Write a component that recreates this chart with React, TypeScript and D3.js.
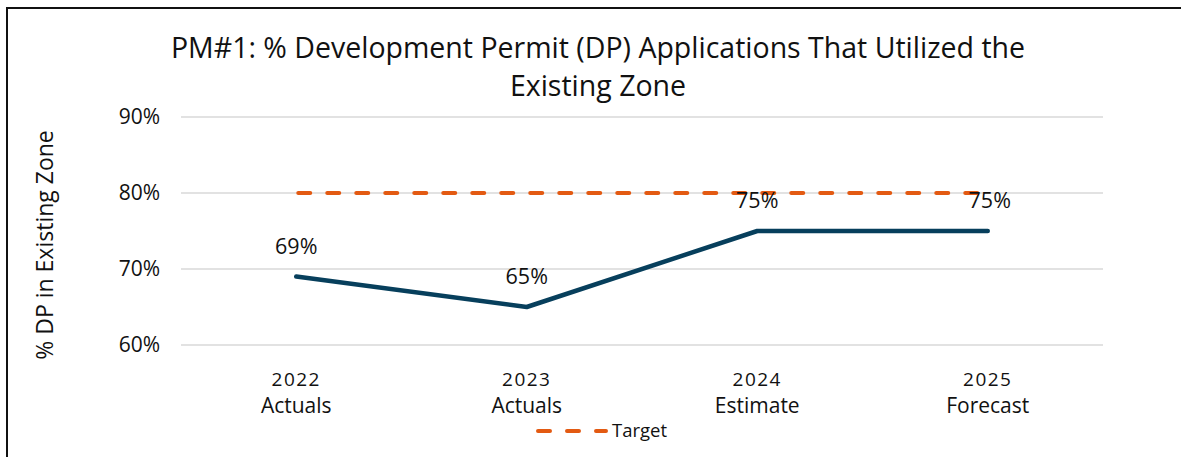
import React, { useEffect, useRef } from 'react'
import * as d3 from 'd3'

const categories = ['2022|Actuals', '2023|Actuals', '2024|Estimate', '2025|Forecast']
const actualValues = [0.69, 0.65, 0.75, 0.75]
const targetValues = [0.8, 0.8, 0.8, 0.8]
const yTicks = [0.6, 0.7, 0.8, 0.9]
const titleLines = ['PM#1: % Development Permit (DP) Applications That Utilized the', 'Existing Zone']

const FONT = '"Open Sans", sans-serif'

export default function App() {
  const ref = useRef<SVGSVGElement | null>(null)

  useEffect(() => {
    const svg = d3.select(ref.current)
    svg.selectAll('*').remove()

    const width = 1181
    const height = 457
    const left = 181
    const right = 1103
    const top = 117
    const bottom = 345

    // frame (only left and top edges visible in the crop)
    svg.append('path')
      .attr('d', `M7,${height} L7,8 L${width},8`)
      .attr('fill', 'none')
      .attr('stroke', '#111')
      .attr('stroke-width', 2)

    const x = d3.scalePoint<string>().domain(categories).range([left, right]).padding(0.5)
    const y = d3.scaleLinear().domain([0.6, 0.9]).range([bottom, top])

    // gridlines
    svg.append('g')
      .selectAll('line')
      .data(yTicks)
      .enter()
      .append('line')
      .attr('x1', left)
      .attr('x2', right)
      .attr('y1', d => y(d))
      .attr('y2', d => y(d))
      .attr('stroke', '#d9d9d9')
      .attr('stroke-width', 1.5)

    // y tick labels
    svg.append('g')
      .selectAll('text')
      .data(yTicks)
      .enter()
      .append('text')
      .attr('x', 160)
      .attr('y', d => y(d))
      .attr('dy', '0.35em')
      .attr('text-anchor', 'end')
      .attr('font-family', FONT)
      .attr('font-size', 21)
      .attr('fill', '#111')
      .text(d => d3.format('.0%')(d))

    // x tick labels (two lines)
    const xl = svg.append('g')
      .selectAll('text')
      .data(categories)
      .enter()
      .append('text')
      .attr('text-anchor', 'middle')
      .attr('font-family', FONT)
      .attr('font-size', 21)
      .attr('fill', '#111')
    xl.append('tspan')
      .attr('x', d => x(d) as number)
      .attr('y', 386)
      .attr('font-size', 19)
      .attr('letter-spacing', 1.5)
      .text(d => d.split('|')[0])
    xl.append('tspan')
      .attr('x', d => x(d) as number)
      .attr('y', 413)
      .text(d => d.split('|')[1])

    // target line
    const line = d3.line<number>()
      .x((_, i) => x(categories[i]) as number)
      .y(d => y(d))

    svg.append('path')
      .datum(targetValues)
      .attr('d', line)
      .attr('fill', 'none')
      .attr('stroke', '#e35a12')
      .attr('stroke-width', 4)
      .attr('stroke-dasharray', '12 17')
      .attr('stroke-linecap', 'round')
      .attr('transform', 'translate(2,0)')

    // actual line
    svg.append('path')
      .datum(actualValues)
      .attr('d', line)
      .attr('fill', 'none')
      .attr('stroke', '#073f5c')
      .attr('stroke-width', 4.5)
      .attr('stroke-linecap', 'round')
      .attr('stroke-linejoin', 'round')

    // data labels
    svg.append('g')
      .selectAll('text')
      .data(actualValues)
      .enter()
      .append('text')
      .attr('x', (_, i) => (x(categories[i]) as number) + (i === 3 ? 2 : 0))
      .attr('y', d => y(d) - 23)
      .attr('text-anchor', 'middle')
      .attr('font-family', FONT)
      .attr('font-size', 21.5)
      .attr('fill', '#111')
      .text(d => d3.format('.0%')(d))

    // title
    svg.append('g')
      .selectAll('text')
      .data(titleLines)
      .enter()
      .append('text')
      .attr('x', 598)
      .attr('y', (_, i) => 58 + i * 38)
      .attr('text-anchor', 'middle')
      .attr('font-family', FONT)
      .attr('font-size', 28.5)
      .attr('fill', '#111')
      .text(d => d)

    // y axis title
    svg.append('text')
      .attr('transform', `translate(53,${(top + bottom) / 2 + 14}) rotate(-90)`)
      .attr('text-anchor', 'middle')
      .attr('font-family', FONT)
      .attr('font-size', 23)
      .attr('fill', '#111')
      .text('% DP in Existing Zone')

    // legend
    const lg = svg.append('g').attr('transform', 'translate(536,431)')
    lg.append('line')
      .attr('x1', 0)
      .attr('x2', 68)
      .attr('y1', 0)
      .attr('y2', 0)
      .attr('stroke', '#e35a12')
      .attr('stroke-width', 4)
      .attr('stroke-dasharray', '12 17')
      .attr('stroke-linecap', 'round')
      .attr('transform', 'translate(2,0)')
    lg.append('text')
      .attr('x', 76)
      .attr('y', 0)
      .attr('dy', '0.35em')
      .attr('font-family', FONT)
      .attr('font-size', 18.5)
      .attr('fill', '#111')
      .text('Target')
  }, [])

  return (
    <svg
      ref={ref}
      width={1181}
      height={457}
      style={{ position: 'absolute', left: 0, top: 0, background: '#fff' }}
    />
  )
}
